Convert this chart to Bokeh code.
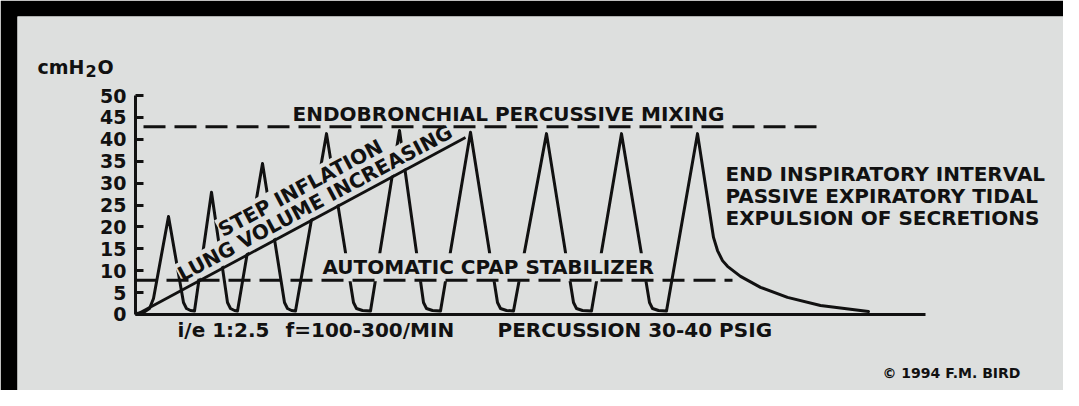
from bokeh.plotting import figure
from bokeh.models import Range1d, FixedTicker
from bokeh.embed import file_html
from bokeh.resources import INLINE
from bokeh.core.properties import value

BG = "#dddfde"
INK = "#111111"
FONT = "DejaVu Sans"

# ---- data (time in arbitrary units, pressure in cmH2O) ----
y_ticks = [0, 5, 10, 15, 20, 25, 30, 35, 40, 45, 50]

wave_t = [1, 8, 14, 18, 33,
          48, 51, 55, 59, 76,
          92, 95, 99, 102, 127,
          149, 152, 156, 160, 191,
          218, 221, 227, 235, 264,
          288, 291, 297, 305, 335,
          362, 365, 371, 378, 411,
          438, 441, 447, 456, 486,
          514, 517, 523, 531, 562,
          578, 582, 587, 592, 605, 625, 652, 685, 725, 733]
wave_p = [0.23, 0.46, 1.37, 3.65, 22.4,
          2.74, 1.37, 0.91, 0.8, 27.9,
          2.74, 1.37, 0.91, 0.8, 34.5,
          2.74, 1.37, 0.91, 0.8, 41.3,
          2.74, 1.37, 0.91, 0.8, 42.0,
          2.74, 1.37, 0.91, 0.8, 41.6,
          2.74, 1.37, 0.91, 0.8, 41.3,
          2.74, 1.37, 0.91, 0.8, 41.3,
          2.74, 1.37, 0.91, 0.8, 41.3,
          17.6, 14.6, 12.3, 11.0, 8.7, 6.2, 3.9, 2.05, 0.91, 0.68]

base_t = [0, 790]
base_p = [0, 0]

diag_t = [3, 330]
diag_p = [0.23, 40.4]

mix_t = [8, 682]
mix_level = 42.9
cpap_t = [0, 597]
cpap_level = 7.8

# ---- figure (black border frames the light-grey card) ----
p = figure(width=1063, height=390, output_backend="svg", toolbar_location=None,
           x_range=Range1d(-118, 928), y_range=Range1d(-17.36, 68.05),
           x_axis_location=None, y_axis_location="left",
           min_border_left=17, min_border_right=0, min_border_top=16, min_border_bottom=0,
           background_fill_color=BG, border_fill_color="#000000", outline_line_color=None)
p.xgrid.visible = False
p.ygrid.visible = False

ax = p.yaxis[0]
ax.fixed_location = 0
ax.ticker = FixedTicker(ticks=y_ticks)
ax.bounds = (0, 50)
ax.axis_line_width = 3
ax.axis_line_color = INK
ax.major_tick_line_width = 3
ax.major_tick_line_color = INK
ax.major_tick_in = 8
ax.major_tick_out = 0
ax.minor_tick_in = 0
ax.minor_tick_out = 0
ax.major_label_standoff = 9
ax.major_label_text_font = FONT
ax.major_label_text_font_style = "bold"
ax.major_label_text_font_size = "19px"
ax.major_label_text_color = INK

# waveform
p.line(wave_t, wave_p, line_color=INK, line_width=3, line_join="round", line_cap="round")

TXT = dict(text_font=value(FONT), text_font_style="bold", text_color=INK,
           text_baseline="alphabetic", text_align="left")

# texts with background that interrupt the waveform
p.text(x=[185], y=[10.8], text=["AUTOMATIC CPAP STABILIZER"], text_font_size="20px",
       background_fill_color=BG, padding=2, **TXT)
ang = 0.4913
p.text(x=[43.75], y=[8.89], text=["LUNG VOLUME INCREASING"], text_font_size="20px", angle=ang,
       background_fill_color=BG, padding=0, **TXT)
p.text(x=[84.3], y=[19.02], text=["STEP INFLATION"], text_font_size="20px", angle=ang,
       background_fill_color=BG, padding=0, **TXT)

# other texts
p.text(x=[157], y=[45.87], text=["ENDOBRONCHIAL PERCUSSIVE MIXING"], text_font_size="20px", **TXT)
p.text(x=[590, 590, 590], y=[31.97, 26.97, 21.97],
       text=["END INSPIRATORY INTERVAL", "PASSIVE EXPIRATORY TIDAL", "EXPULSION OF SECRETIONS"],
       text_font_size="20px", **TXT)
p.text(x=[42, 150, 362], y=[-3.58, -3.58, -3.58],
       text=["i/e 1:2.5", "f=100-300/MIN", "PERCUSSION 30-40 PSIG"], text_font_size="20px", **TXT)
p.text(x=[747], y=[-13.43], text=["\u00a9 1994 F.M. BIRD"], text_font_size="14px", **TXT)

# unit label left of the axis
p.text(x=[-98], y=[56.6], text=["cmH"], text_font_size="19px", **TXT)
p.text(x=[-50], y=[55.5], text=["2"], text_font_size="16px", **TXT)
p.text(x=[-38], y=[56.6], text=["O"], text_font_size="19px", **TXT)

# dashed reference lines
p.line(mix_t, [mix_level, mix_level], line_color=INK, line_width=3, line_dash="22 9")
p.line(cpap_t, [cpap_level, cpap_level], line_color=INK, line_width=3, line_dash="22 9")

# diagonal step-inflation line and baseline
p.line(diag_t, diag_p, line_color=INK, line_width=2.8)
p.line(base_t, base_p, line_color=INK, line_width=3)

open("out.html", "w").write(file_html(p, INLINE))
